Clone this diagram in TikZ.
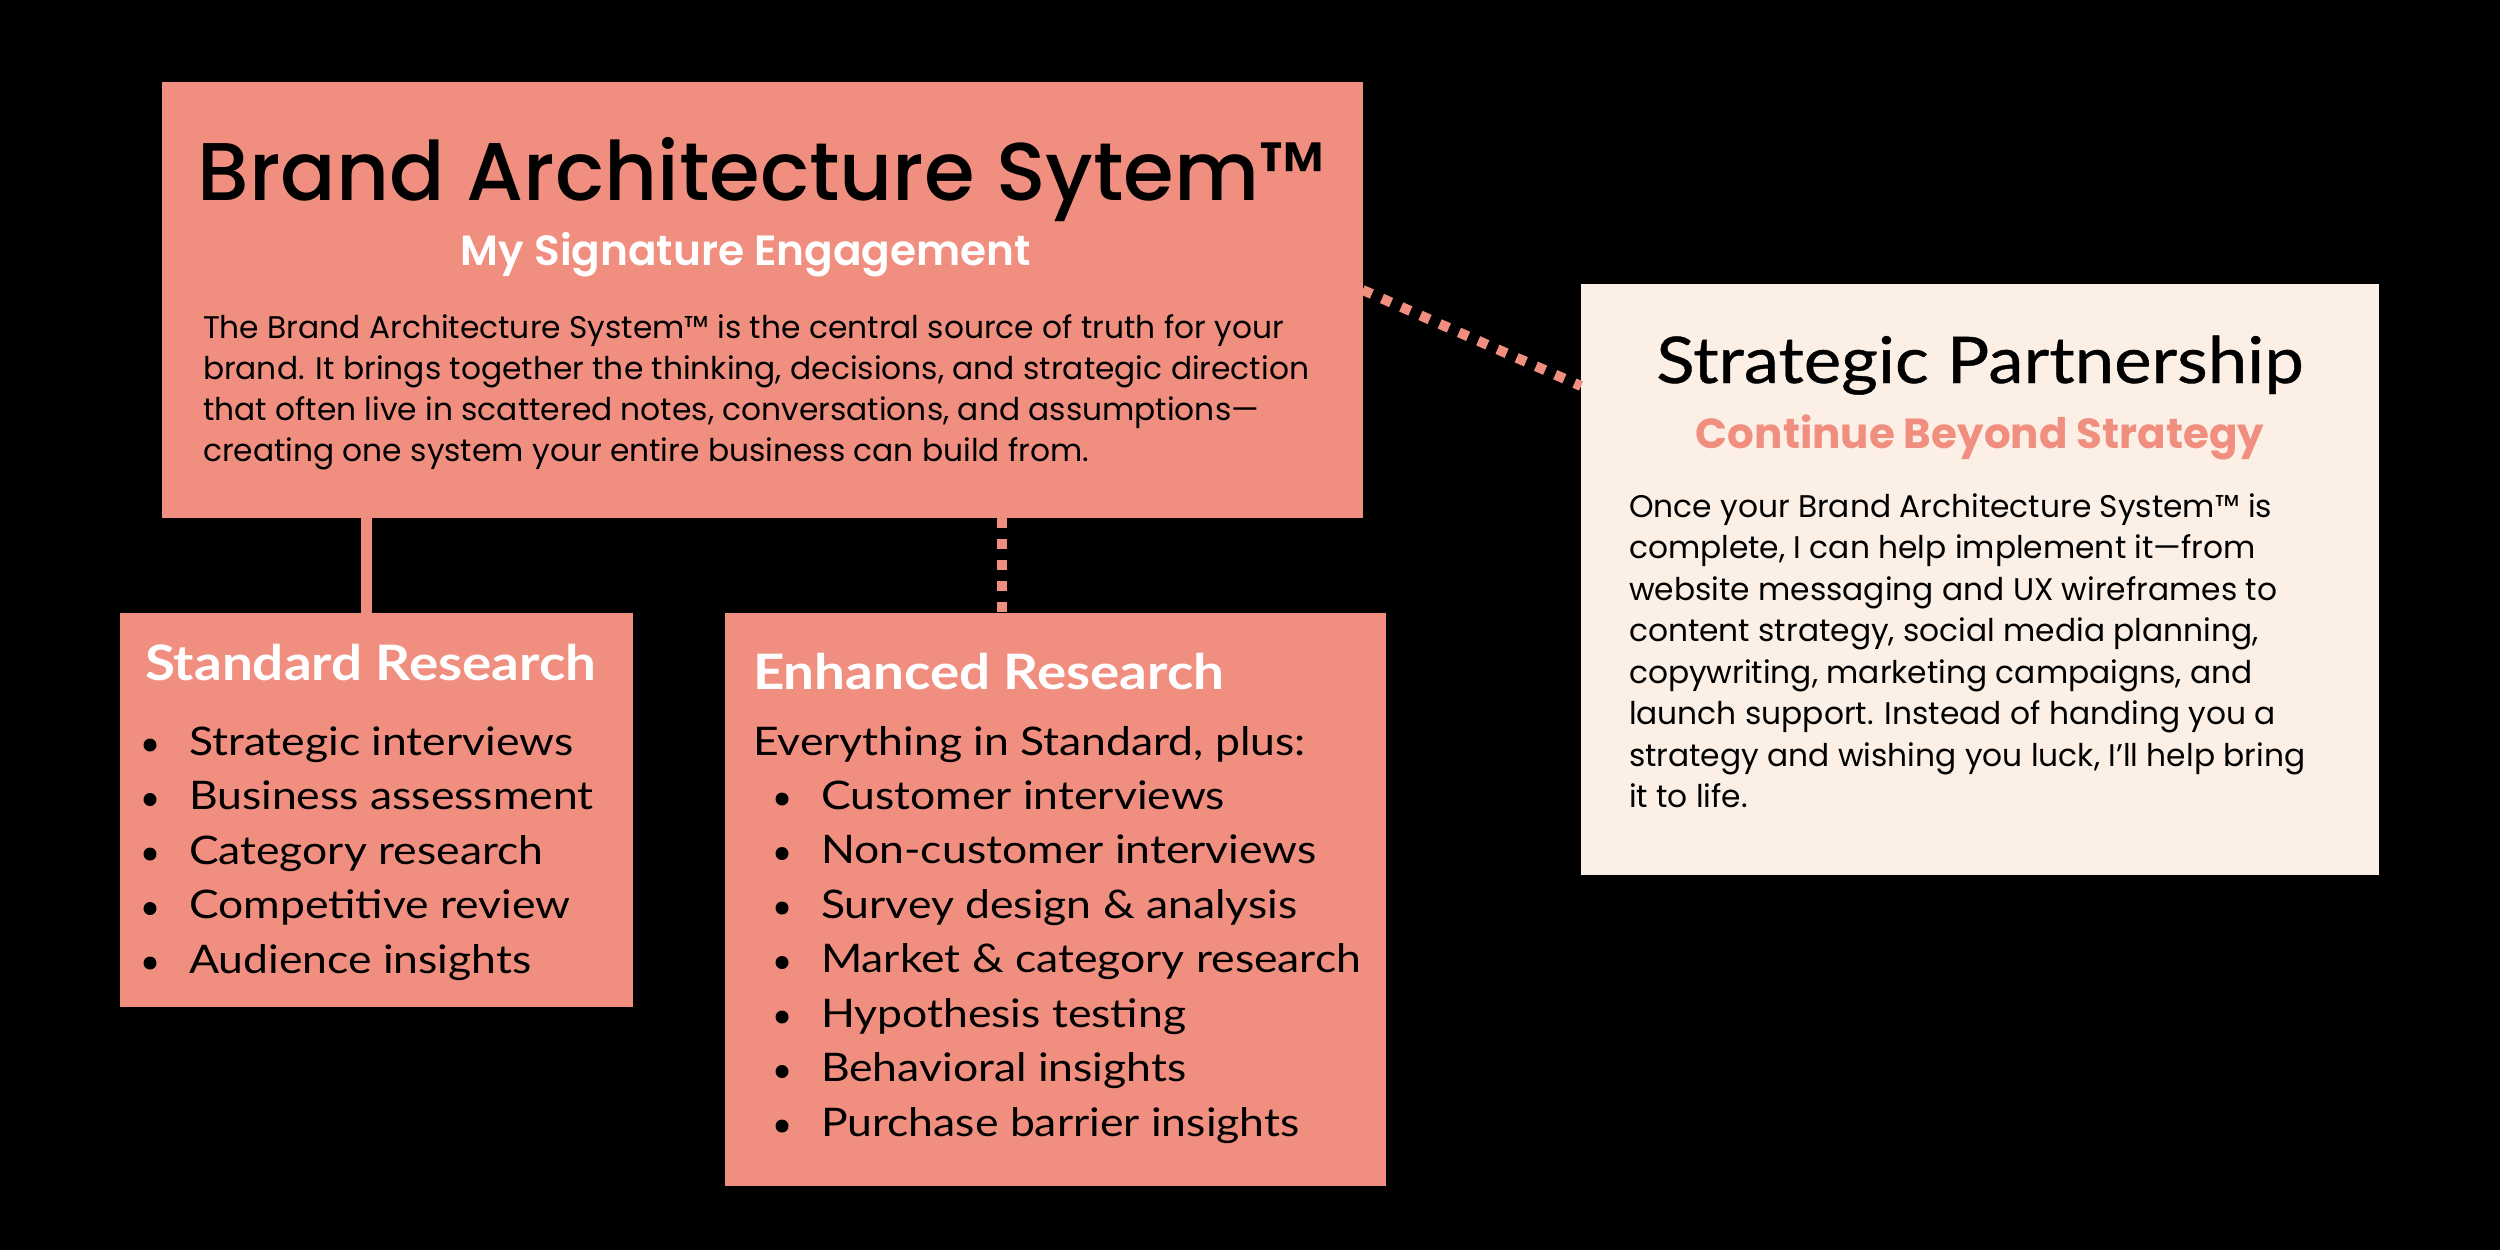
\documentclass[tikz,border=0pt]{standalone}
\usepackage{fontspec}
\usetikzlibrary{calc}
\setmainfont{Poppins}
\newfontfamily\popM{Poppins}[UprightFont={* Medium}]
\newfontfamily\popSB{Poppins}[UprightFont={* SemiBold}]
\newfontfamily\man{Lato}[FakeStretch=1.13]
\newfontfamily\manT{Lato}[FakeStretch=1.12]
\newfontfamily\manS{Lato}[FakeStretch=1.1, FakeBold=0.6]
\definecolor{salmon}{HTML}{F08F80}
\definecolor{cream}{HTML}{FCF0E6}
\tikzset{
  box/.style={inner sep=0pt, outer sep=0pt, anchor=north west},
  txt/.style={inner sep=0pt, outer sep=0pt, anchor=base west},
  ctxt/.style={inner sep=0pt, outer sep=0pt, anchor=base},
  bigtitle/.style={ctxt, font=\popM\fontsize{23.3pt}{28pt}\selectfont},
  subt/.style={ctxt, font=\popSB\fontsize{12pt}{14pt}\selectfont},
  body/.style={txt, font=\fontsize{8.9pt}{11pt}\selectfont},
  sptitle/.style={ctxt, font=\manS\fontsize{18.3pt}{21pt}\selectfont},
  rtitle/.style={txt, font=\manT\bfseries\fontsize{13.9pt}{17pt}\selectfont, text=white},
  item/.style={txt, font=\man\fontsize{11.2pt}{14pt}\selectfont},
  solidlink/.style={draw=salmon, line width=3.13pt},
  dotlink/.style={draw=salmon, line width=2.85pt, dash pattern=on 2.85pt off 3.13pt},
}
\begin{document}
\begin{tikzpicture}[x=0.01cm, y=-0.01cm]
\fill[black] (0,0) rectangle (2500,1250);
\useasboundingbox (0,0) rectangle (2500,1250);

% boxes
\node[box, fill=salmon, minimum width=12cm, minimum height=4.36cm] (top) at (162,82) {};
\node[box, fill=salmon, minimum width=5.13cm, minimum height=3.94cm] (std) at (120,613) {};
\node[box, fill=salmon, minimum width=6.61cm, minimum height=5.73cm] (enh) at (725,613) {};
\node[box, fill=cream, minimum width=7.98cm, minimum height=5.91cm] (sp) at (1581,284) {};

% connectors
\coordinate (cs) at (366,0);
\coordinate (cd) at (1002,0);
\draw[solidlink] (top.south -| cs) -- (std.north -| cs);
\draw[dotlink] (top.south -| cd) -- (enh.north -| cd);
\draw[dotlink] ($(top.north east)+(0,208)$) -- ($(sp.north west)+(0,102)$);

% top box text
\node[bigtitle] (t1) at (762,200) {Brand Architecture Sytem™};
\node[subt, text=white] (t2) at (746,265) {My Signature Engagement};
\node[body] (a1) at (203,338) {The Brand Architecture System™ is the central source of truth for your};
\node[body] (a2) at (203,379) {brand. It brings together the thinking, decisions, and strategic direction};
\node[body] (a3) at (203,420) {that often live in scattered notes, conversations, and assumptions—};
\node[body] (a4) at (203,461) {creating one system your entire business can build from.};

% right box text
\node[sptitle] (s1) at (1980,383) {Strategic Partnership};
\node[subt, font=\bfseries\fontsize{11.95pt}{14pt}\selectfont, text=salmon] (s2) at (1980,448) {Continue Beyond Strategy};
\node[body] (b1) at (1629,517) {Once your Brand Architecture System™ is};
\node[body] (b2) at (1629,558.5) {complete, I can help implement it—from};
\node[body] (b3) at (1629,600) {website messaging and UX wireframes to};
\node[body] (b4) at (1629,641.5) {content strategy, social media planning,};
\node[body] (b5) at (1629,683) {copywriting, marketing campaigns, and};
\node[body] (b6) at (1629,724.5) {launch support. Instead of handing you a};
\node[body] (b7) at (1629,766) {strategy and wishing you luck, I’ll help bring};
\node[body] (b8) at (1629,807.5) {it to life.};

% standard research
\node[rtitle] (r1) at (145,680) {Standard Research};
\foreach \t [count=\i] in {Strategic interviews, Business assessment, Category research, Competitive review, Audience insights}{
  \fill (150,{755+54.5*(\i-1)-10}) circle[radius=6.5];
  \node[item] (si\i) at (189,{755+54.5*(\i-1)}) {\t};
}

% enhanced research
\node[rtitle] (r2) at (753,689) {Enhanced Research};
\node[item] (e0) at (753,755) {Everything in Standard, plus:};
\foreach \t [count=\i] in {Customer interviews, Non-customer interviews, Survey design \& analysis, Market \& category research, Hypothesis testing, Behavioral insights, Purchase barrier insights}{
  \fill (782,{809+54.5*(\i-1)-10}) circle[radius=6.5];
  \node[item] (ei\i) at (821,{809+54.5*(\i-1)}) {\t};
}
\end{tikzpicture}
\end{document}
